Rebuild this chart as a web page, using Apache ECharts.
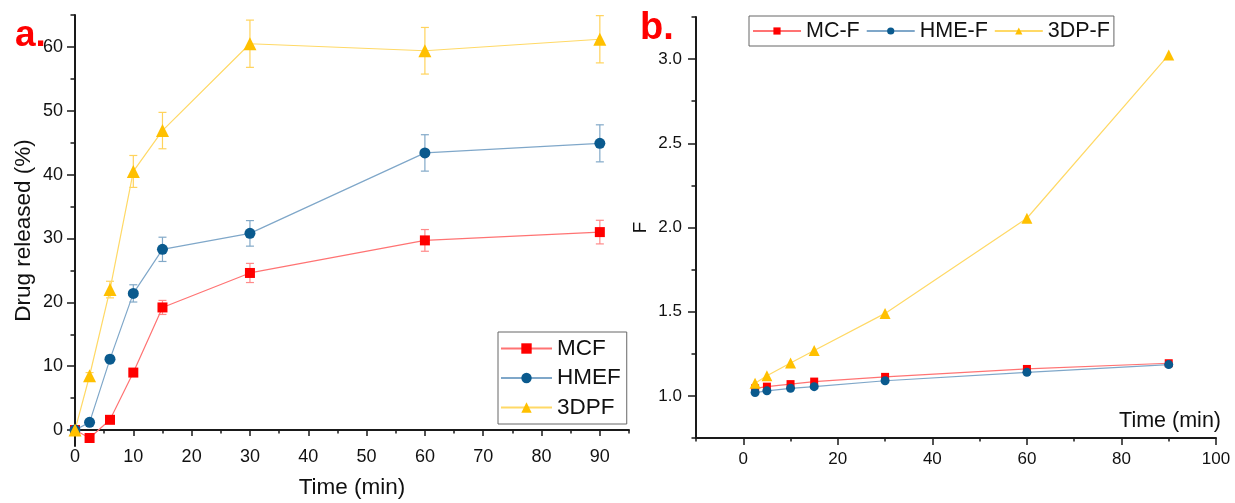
<!DOCTYPE html>
<html>
<head>
    <meta charset="utf-8">
    <title>Drug release and F factor</title>
    <script src="https://cdn.jsdelivr.net/npm/echarts@6/dist/echarts.min.js"></script>
    <style>
        html, body { margin: 0; background: #fff; }
        #main { width: 1235px; height: 503px; }
    </style>
</head>
<body>
<div id="main"></div>
<script type="text/javascript">
    // panel a - drug released (%) vs time
    var timeA = [0, 2.5, 6, 10, 15, 30, 60, 90];
    var mcfA = [0, -1.25, 1.6, 9.0, 19.2, 24.6, 29.7, 31.0];
    var mcfErr = [0, 0, 0.3, 0.5, 1.1, 1.5, 1.7, 1.85];
    var hmefA = [0, 1.2, 11.1, 21.4, 28.3, 30.8, 43.4, 44.9];
    var hmefErr = [0, 0.3, 0.6, 1.35, 1.9, 2.0, 2.85, 2.9];
    var dpfA = [0, 8.5, 22.0, 40.5, 46.9, 60.5, 59.4, 61.2];
    var dpfErr = [0, 0.5, 1.3, 2.5, 2.85, 3.7, 3.65, 3.7];

    // panel b - F vs time
    var timeB = [2.5, 5, 10, 15, 30, 60, 90];
    var mcF = [1.045, 1.055, 1.07, 1.085, 1.113, 1.16, 1.194];
    var hmeF = [1.02, 1.03, 1.045, 1.055, 1.09, 1.14, 1.186];
    var dpF = [1.075, 1.12, 1.195, 1.27, 1.49, 2.055, 3.025];

    // ticks
    var xTicksA = [0, 10, 20, 30, 40, 50, 60, 70, 80, 90];
    var xMinorA = [5, 15, 25, 35, 45, 55, 65, 75, 85, 95];
    var yTicksA = [0, 10, 20, 30, 40, 50, 60];
    var yMinorA = [5, 15, 25, 35, 45, 55, 65];
    var xTicksB = [0, 20, 40, 60, 80, 100];
    var xMinorB = [-10, 10, 30, 50, 70, 90];
    var yTicksB = [1.0, 1.5, 2.0, 2.5, 3.0];
    var yMinorB = [0.75, 1.25, 1.75, 2.25, 2.75, 3.25];

    var font = 'Liberation Sans, Arial, sans-serif';
    var red = '#ff0000', redLine = '#ff7373', redErr = '#ff8a8a';
    var blue = '#0a5a8e', blueLine = '#7fa7c9', blueErr = '#82a9c8';
    var yel = '#ffc000', yelLine = '#ffd966', yelErr = '#ffd35c';

    var chart = echarts.init(document.getElementById('main'));

    function pairs(t, v) {
        return t.map(function (x, i) { return [x, v[i]]; });
    }

    function errSeries(t, v, e, color) {
        var data = [];
        t.forEach(function (x, i) {
            if (e[i] > 0) data.push([x, v[i] - e[i], v[i] + e[i]]);
        });
        return {
            type: 'custom', xAxisIndex: 0, yAxisIndex: 0, z: 1, silent: true,
            data: data,
            renderItem: function (params, api) {
                var x = api.value(0);
                var lo = api.coord([x, api.value(1)]);
                var hi = api.coord([x, api.value(2)]);
                var w = 4;
                var st = { stroke: color, lineWidth: 1.2 };
                return {
                    type: 'group', children: [
                        { type: 'line', shape: { x1: lo[0], y1: lo[1], x2: hi[0], y2: hi[1] }, style: st },
                        { type: 'line', shape: { x1: lo[0] - w, y1: lo[1], x2: lo[0] + w, y2: lo[1] }, style: st },
                        { type: 'line', shape: { x1: hi[0] - w, y1: hi[1], x2: hi[0] + w, y2: hi[1] }, style: st }
                    ]
                };
            }
        };
    }

    function axisBase(extra) {
        var o = {
            type: 'value',
            splitLine: { show: false },
            axisLine: { show: true, lineStyle: { color: '#1a1a1a', width: 2 } },
            axisTick: { show: true, inside: false, lineStyle: { color: '#1a1a1a', width: 1.5 } },
            axisLabel: { color: '#111', fontFamily: font },
            nameTextStyle: { color: '#111', fontFamily: font }
        };
        for (var k in extra) {
            if (typeof extra[k] === 'object' && o[k] && !Array.isArray(extra[k])) {
                o[k] = Object.assign({}, o[k], extra[k]);
            } else {
                o[k] = extra[k];
            }
        }
        return o;
    }

    function minorAxis(grid, pos, min, max, vals, len) {
        return {
            type: 'value', gridIndex: grid, position: pos, min: min, max: max,
            splitLine: { show: false },
            axisLine: { show: false, onZero: false },
            axisLabel: { show: false },
            axisTick: { show: true, length: len, customValues: vals, lineStyle: { color: '#1a1a1a', width: 1.5 } }
        };
    }

    var option = {
        animation: false,
        backgroundColor: '#fff',
        graphic: [
            { type: 'text', left: 15, top: 17, style: { text: 'a.', fill: '#ff0000', font: 'bold 37px ' + font } },
            { type: 'text', left: 640, top: 10, style: { text: 'b.', fill: '#ff0000', font: 'bold 38px ' + font } }
        ],
        legend: [{
            orient: 'vertical', left: 498, top: 332,
            data: ['MCF', 'HMEF', '3DPF'],
            itemWidth: 51, itemHeight: 13, itemGap: 6.5,
            padding: [5, 6, 5, 2],
            borderColor: '#666', borderWidth: 1,
            textStyle: { fontSize: 22.5, lineHeight: 22, color: '#111', fontFamily: font }
        }, {
            orient: 'horizontal', left: 749, top: 16,
            data: ['MC-F', 'HME-F', '3DP-F'],
            itemWidth: 48, itemHeight: 9, itemGap: 6,
            padding: [4, 4, 4, 3],
            borderColor: '#666', borderWidth: 1,
            textStyle: { fontSize: 21.5, lineHeight: 22, color: '#111', fontFamily: font }
        }],
        grid: [
            { left: 75, top: 15, width: 554, height: 431, containLabel: false, outerBoundsMode: 'none' },
            { left: 696, top: 17, width: 520, height: 421, containLabel: false, outerBoundsMode: 'none' }
        ],
        xAxis: [
            axisBase({
                gridIndex: 0, position: 'bottom', min: 0, max: 95,
                name: 'Time (min)', nameLocation: 'middle', nameGap: 30,
                nameTextStyle: { fontSize: 22.5 },
                axisLine: { onZero: true, onZeroAxisIndex: 0 },
                axisTick: { length: 6, customValues: xTicksA },
                axisLabel: { fontSize: 18, margin: 2, customValues: xTicksA }
            }),
            axisBase({
                gridIndex: 1, position: 'bottom', min: -10, max: 100,
                name: 'Time (min)', nameLocation: 'end', nameGap: 5,
                nameTextStyle: { fontSize: 21.5, align: 'right', verticalAlign: 'bottom', padding: [0, 0, 6, 0] },
                axisLine: { onZero: false },
                axisTick: { length: 7, customValues: xTicksB },
                axisLabel: { fontSize: 17, margin: 13, customValues: xTicksB }
            }),
            Object.assign(minorAxis(0, 'bottom', 0, 95, xMinorA, 3.5), { axisLine: { show: false, onZero: true, onZeroAxisIndex: 0 } }),
            minorAxis(1, 'bottom', -10, 100, xMinorB, 3.5)
        ],
        yAxis: [
            axisBase({
                gridIndex: 0, position: 'left', min: -2.5, max: 65,
                name: 'Drug released (%)', nameLocation: 'middle', nameGap: 40,
                nameTextStyle: { fontSize: 22.5 },
                axisLine: { onZero: false },
                axisTick: { length: 8, customValues: yTicksA },
                axisLabel: { fontSize: 18, margin: 12, customValues: yTicksA }
            }),
            axisBase({
                gridIndex: 1, position: 'left', min: 0.75, max: 3.25,
                name: 'F', nameLocation: 'middle', nameGap: 46,
                nameTextStyle: { fontSize: 19 },
                axisLine: { onZero: false },
                axisTick: { length: 8, customValues: yTicksB },
                axisLabel: { fontSize: 17, margin: 14, customValues: yTicksB, formatter: function (v) { return v.toFixed(1); } }
            }),
            minorAxis(0, 'left', -2.5, 65, yMinorA, 4.5),
            minorAxis(1, 'left', 0.75, 3.25, yMinorB, 4.5)
        ],
        series: [
            errSeries(timeA, mcfA, mcfErr, redErr),
            errSeries(timeA, hmefA, hmefErr, blueErr),
            errSeries(timeA, dpfA, dpfErr, yelErr),
            {
                name: 'MCF', type: 'line', xAxisIndex: 0, yAxisIndex: 0, z: 3,
                data: pairs(timeA, mcfA), symbol: 'rect', symbolSize: 10,
                itemStyle: { color: red }, lineStyle: { color: redLine, width: 1.2 }
            },
            {
                name: 'HMEF', type: 'line', xAxisIndex: 0, yAxisIndex: 0, z: 3,
                data: pairs(timeA, hmefA), symbol: 'circle', symbolSize: 11,
                itemStyle: { color: blue }, lineStyle: { color: blueLine, width: 1.2 }
            },
            {
                name: '3DPF', type: 'line', xAxisIndex: 0, yAxisIndex: 0, z: 3,
                data: pairs(timeA, dpfA), symbol: 'triangle', symbolSize: 13,
                itemStyle: { color: yel }, lineStyle: { color: yelLine, width: 1.2 }
            },
            {
                name: 'MC-F', type: 'line', xAxisIndex: 1, yAxisIndex: 1, z: 3,
                data: pairs(timeB, mcF), symbol: 'rect', symbolSize: 8,
                itemStyle: { color: red }, lineStyle: { color: redLine, width: 1.2 }
            },
            {
                name: 'HME-F', type: 'line', xAxisIndex: 1, yAxisIndex: 1, z: 3,
                data: pairs(timeB, hmeF), symbol: 'circle', symbolSize: 9,
                itemStyle: { color: blue }, lineStyle: { color: blueLine, width: 1.2 }
            },
            {
                name: '3DP-F', type: 'line', xAxisIndex: 1, yAxisIndex: 1, z: 3,
                data: pairs(timeB, dpF), symbol: 'triangle', symbolSize: 11,
                itemStyle: { color: yel }, lineStyle: { color: yelLine, width: 1.2 }
            }
        ]
    };

    chart.setOption(option);
</script>
</body>
</html>
